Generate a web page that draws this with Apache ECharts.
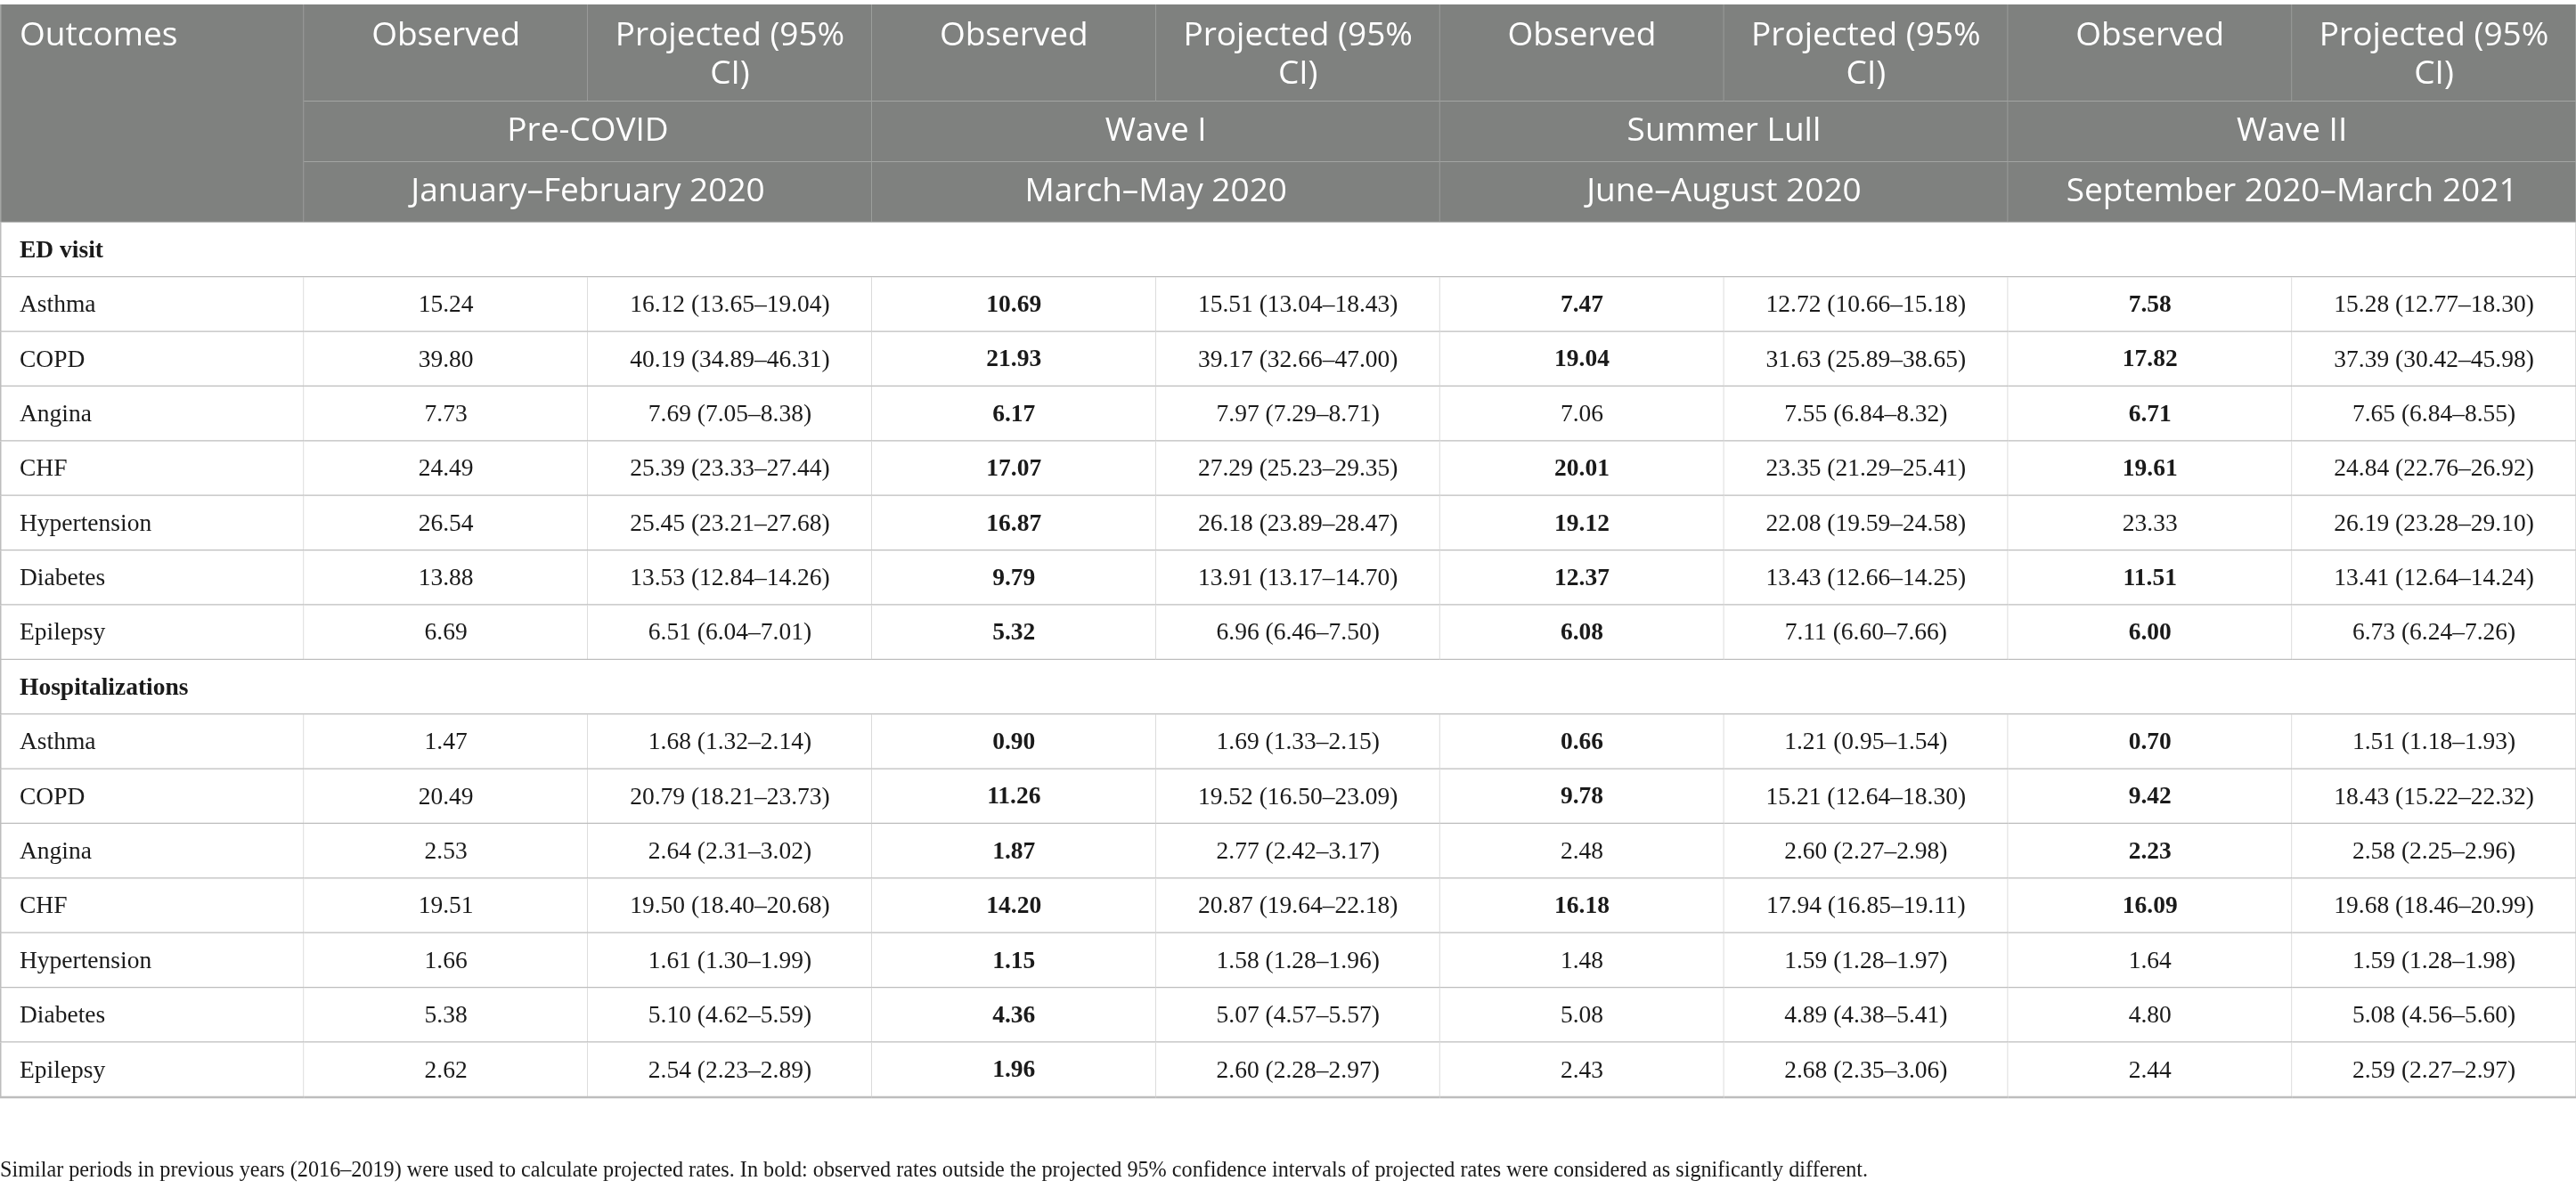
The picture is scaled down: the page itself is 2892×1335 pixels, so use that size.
<!DOCTYPE html>
<html>
<head>
<meta charset="utf-8">
<script src="https://cdn.jsdelivr.net/npm/echarts@6/dist/echarts.min.js"></script>
<style>
  html, body { margin: 0; padding: 0; background: #fff; }
  #main { width: 2892px; height: 1335px; }
</style>
</head>
<body>
<div id="main"></div>
<script>
var outcomes = ['Asthma', 'COPD', 'Angina', 'CHF', 'Hypertension', 'Diabetes', 'Epilepsy'];
var sections = ['ED visit', 'Hospitalizations'];
var periods = ['Pre-COVID', 'Wave I', 'Summer Lull', 'Wave II'];
var periodDates = ['January\u2013February 2020', 'March\u2013May 2020', 'June\u2013August 2020', 'September 2020\u2013March 2021'];
var subHeaders = ['Observed', 'Projected (95%\nCI)'];

// rows = outcomes, columns = periods
var edObserved = [
	[15.24, 10.69, 7.47, 7.58],
	[39.80, 21.93, 19.04, 17.82],
	[7.73, 6.17, 7.06, 6.71],
	[24.49, 17.07, 20.01, 19.61],
	[26.54, 16.87, 19.12, 23.33],
	[13.88, 9.79, 12.37, 11.51],
	[6.69, 5.32, 6.08, 6.00]
];
var edProjected = [
	[16.12, 15.51, 12.72, 15.28],
	[40.19, 39.17, 31.63, 37.39],
	[7.69, 7.97, 7.55, 7.65],
	[25.39, 27.29, 23.35, 24.84],
	[25.45, 26.18, 22.08, 26.19],
	[13.53, 13.91, 13.43, 13.41],
	[6.51, 6.96, 7.11, 6.73]
];
var edLower = [
	[13.65, 13.04, 10.66, 12.77],
	[34.89, 32.66, 25.89, 30.42],
	[7.05, 7.29, 6.84, 6.84],
	[23.33, 25.23, 21.29, 22.76],
	[23.21, 23.89, 19.59, 23.28],
	[12.84, 13.17, 12.66, 12.64],
	[6.04, 6.46, 6.60, 6.24]
];
var edUpper = [
	[19.04, 18.43, 15.18, 18.30],
	[46.31, 47.00, 38.65, 45.98],
	[8.38, 8.71, 8.32, 8.55],
	[27.44, 29.35, 25.41, 26.92],
	[27.68, 28.47, 24.58, 29.10],
	[14.26, 14.70, 14.25, 14.24],
	[7.01, 7.50, 7.66, 7.26]
];

var hospObserved = [
	[1.47, 0.90, 0.66, 0.70],
	[20.49, 11.26, 9.78, 9.42],
	[2.53, 1.87, 2.48, 2.23],
	[19.51, 14.20, 16.18, 16.09],
	[1.66, 1.15, 1.48, 1.64],
	[5.38, 4.36, 5.08, 4.80],
	[2.62, 1.96, 2.43, 2.44]
];
var hospProjected = [
	[1.68, 1.69, 1.21, 1.51],
	[20.79, 19.52, 15.21, 18.43],
	[2.64, 2.77, 2.60, 2.58],
	[19.50, 20.87, 17.94, 19.68],
	[1.61, 1.58, 1.59, 1.59],
	[5.10, 5.07, 4.89, 5.08],
	[2.54, 2.60, 2.68, 2.59]
];
var hospLower = [
	[1.32, 1.33, 0.95, 1.18],
	[18.21, 16.50, 12.64, 15.22],
	[2.31, 2.42, 2.27, 2.25],
	[18.40, 19.64, 16.85, 18.46],
	[1.30, 1.28, 1.28, 1.28],
	[4.62, 4.57, 4.38, 4.56],
	[2.23, 2.28, 2.35, 2.27]
];
var hospUpper = [
	[2.14, 2.15, 1.54, 1.93],
	[23.73, 23.09, 18.30, 22.32],
	[3.02, 3.17, 2.98, 2.96],
	[20.68, 22.18, 19.11, 20.99],
	[1.99, 1.96, 1.97, 1.98],
	[5.59, 5.57, 5.41, 5.60],
	[2.89, 2.97, 3.06, 2.97]
];

var footnote = 'Similar periods in previous years (2016\u20132019) were used to calculate projected rates. In bold: observed rates outside the projected 95% confidence intervals of projected rates were considered as significantly different.';

// layout (table units)
var colWidths = [1.07, 1, 1, 1, 1, 1, 1, 1, 1];
var headerRowHeights = [1.775, 1.107, 1.107];

var colEdges = [0];
colWidths.forEach(function(w) { colEdges.push(colEdges[colEdges.length - 1] + w); });
var totalW = colEdges[colEdges.length - 1];
var headH = headerRowHeights[0] + headerRowHeights[1] + headerRowHeights[2];
var totalH = headH + sections.length * (outcomes.length + 1);

var SANS = '"Open Sans", "Noto Sans", sans-serif';
var SERIF = '"Liberation Serif", "DejaVu Serif", serif';

// build cells: column index range + row range
var cells = [];
function addCell(c0, c1, r0, r1, kind, text, opt) {
	cells.push({ c0: c0, c1: c1, r0: r0, r1: r1, kind: kind, text: text, opt: opt || {} });
}

var h1 = headerRowHeights[0], h2 = headerRowHeights[0] + headerRowHeights[1];
addCell(0, 1, 0, headH, 'head', 'Outcomes', { align: 'left' });
periods.forEach(function(p, i) {
	var c = 1 + i * 2;
	addCell(c, c + 1, 0, h1, 'head', subHeaders[0], {});
	addCell(c + 1, c + 2, 0, h1, 'head', subHeaders[1], {});
	addCell(c, c + 2, h1, h2, 'head', p, { middle: true });
	addCell(c, c + 2, h2, headH, 'head', periodDates[i], { middle: true });
});

var fmt = function(v) { return v.toFixed(2); };
var blocks = [
	[edObserved, edProjected, edLower, edUpper],
	[hospObserved, hospProjected, hospLower, hospUpper]
];
var r = headH;
sections.forEach(function(sec, s) {
	addCell(0, 9, r, r + 1, 'section', sec, { align: 'left', bold: true });
	r += 1;
	var b = blocks[s];
	outcomes.forEach(function(name, k) {
		addCell(0, 1, r, r + 1, 'body', name, { align: 'left' });
		for (var i = 0; i < periods.length; i++) {
			var obs = b[0][k][i], lo = b[2][k][i], hi = b[3][k][i];
			var c = 1 + i * 2;
			// bold when observed falls outside projected CI
			addCell(c, c + 1, r, r + 1, 'body', fmt(obs), { bold: obs < lo || obs > hi });
			addCell(c + 1, c + 2, r, r + 1, 'body', fmt(b[1][k][i]) + ' (' + fmt(lo) + '\u2013' + fmt(hi) + ')', {});
		}
		r += 1;
	});
});

var cellData = cells.map(function(c, i) { return [colEdges[c.c0], colEdges[c.c1], c.r0, c.r1, i]; });

function renderCell(params, api) {
	var cell = cells[api.value(4)];
	var p0 = api.coord([api.value(0), api.value(2)]);
	var p1 = api.coord([api.value(1), api.value(3)]);
	var x = p0[0], y = p0[1], w = p1[0] - p0[0], h = p1[1] - p0[1];
	var isHead = cell.kind === 'head';
	var children = [];
	children.push({
		type: 'rect',
		shape: { x: x, y: y, width: w, height: h },
		style: { fill: isHead ? '#7f817f' : '#ffffff', stroke: null }
	});
	// right and bottom border lines
	children.push({
		type: 'line',
		shape: { x1: x + w, y1: y, x2: x + w, y2: y + h },
		style: { stroke: isHead ? '#a3a5a3' : '#d0d0d0', lineWidth: 1.5 }
	});
	children.push({
		type: 'line',
		shape: { x1: x, y1: y + h, x2: x + w, y2: y + h },
		style: { stroke: isHead ? '#a3a5a3' : '#bdbdbd', lineWidth: isHead ? 2 : 2.5 }
	});
	if (cell.c0 === 0) {
		children.push({
			type: 'line',
			shape: { x1: x + 0.75, y1: y, x2: x + 0.75, y2: y + h },
			style: { stroke: isHead ? '#a3a5a3' : '#bdbdbd', lineWidth: 1.5 }
		});
	}
	var left = cell.opt.align === 'left';
	var txt;
	if (isHead) {
		txt = {
			type: 'text',
			style: {
				text: cell.text,
				x: left ? x + 22 : x + w / 2,
				y: cell.opt.middle ? y + h / 2 : y + 14,
				fill: '#ffffff',
				fontFamily: SANS,
				fontSize: 37,
				lineHeight: 43,
				align: left ? 'left' : 'center',
				verticalAlign: cell.opt.middle ? 'middle' : 'top'
			}
		};
	} else {
		txt = {
			type: 'text',
			style: {
				text: cell.text,
				x: left ? x + 22 : x + w / 2,
				y: y + h / 2 + 1,
				fill: '#1a1a1a',
				fontFamily: SERIF,
				fontSize: 27.5,
				fontWeight: cell.opt.bold ? 'bold' : 'normal',
				align: left ? 'left' : 'center',
				verticalAlign: 'middle'
			}
		};
	}
	children.push(txt);
	return { type: 'group', children: children };
}

var chart = echarts.init(document.getElementById('main'));
var option = {
	animation: false,
	title: {
		text: footnote,
		left: 0,
		top: 1303,
		padding: 0,
		textStyle: {
			fontFamily: SERIF,
			fontSize: 24.2,
			fontWeight: 'normal',
			color: '#1a1a1a'
		}
	},
	grid: { left: 0, right: 0, top: 5, bottom: 103 },
	xAxis: { type: 'value', min: 0, max: totalW, show: false },
	yAxis: { type: 'value', min: 0, max: totalH, inverse: true, show: false },
	series: [{
		type: 'custom',
		renderItem: renderCell,
		clip: false,
		silent: true,
		data: cellData
	}]
};
chart.setOption(option);

window.onresize = function() {
	chart.resize();
}
</script>
</body>
</html>
